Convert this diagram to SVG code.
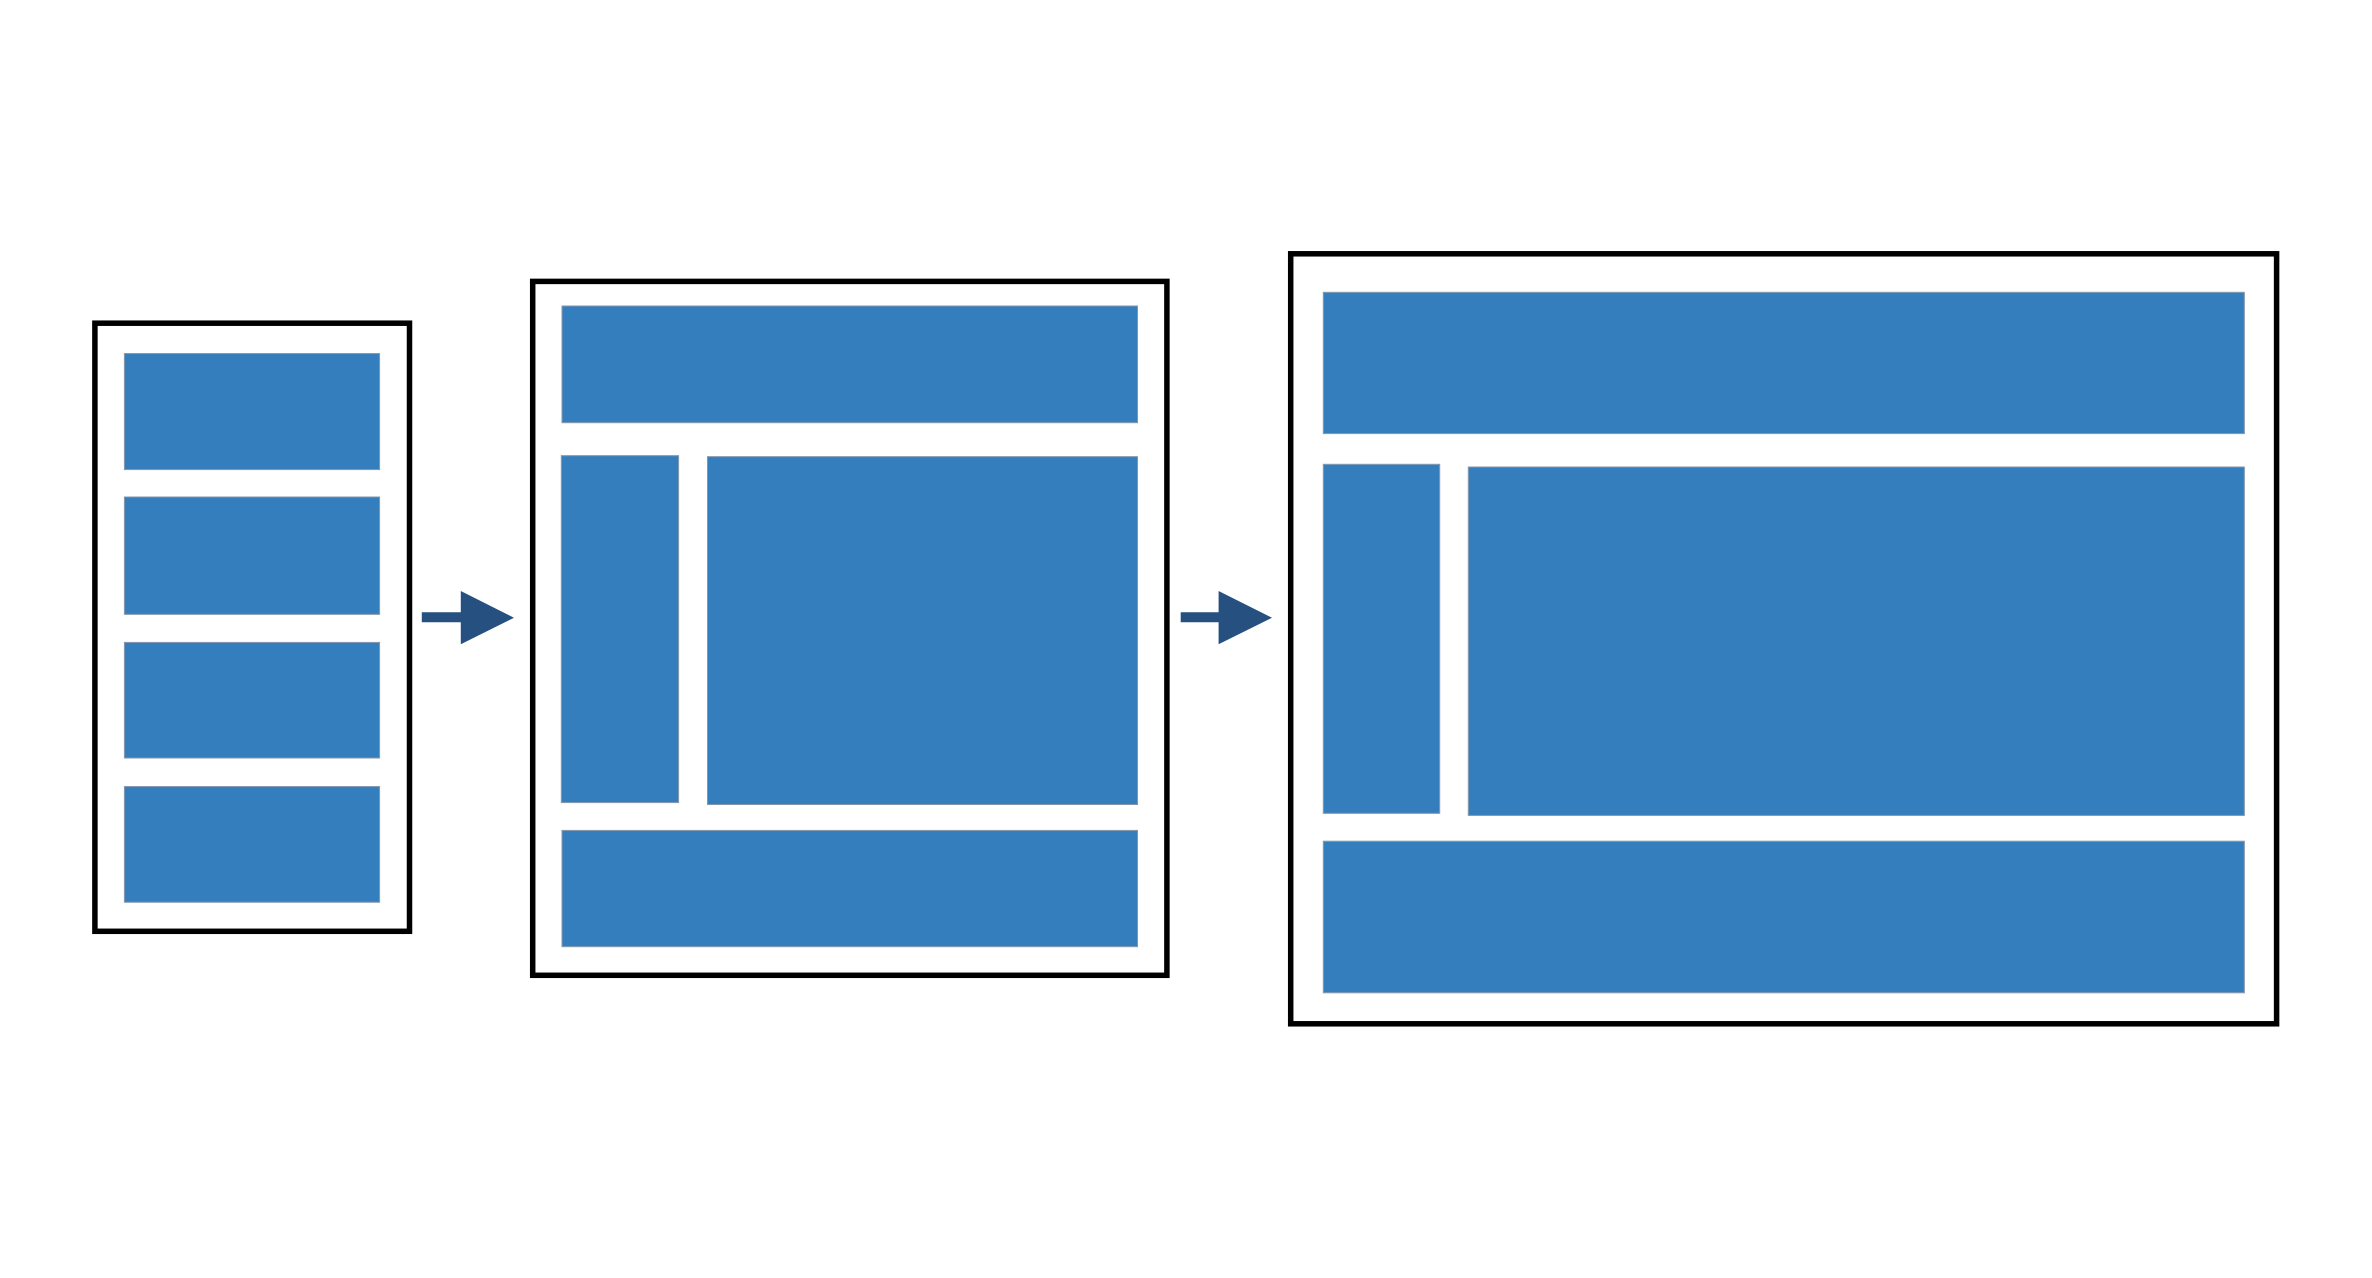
<svg xmlns="http://www.w3.org/2000/svg" width="2372" height="1278" viewBox="0 0 2372 1278">
<style>
.frame{fill:#ffffff;stroke:#000000;stroke-width:5.5}
.pane{fill:#357ebd;stroke:#8496ab;stroke-width:1}
.arrow{fill:#25507f;stroke:none}
</style>
<rect x="0" y="0" width="2372" height="1278" fill="#ffffff"/>
<g id="layout-mobile">
<rect class="frame" x="94.9" y="323.2" width="314.6" height="608.1"/>
<rect class="pane" x="124.4" y="353.6" width="255.2" height="116"/>
<rect class="pane" x="124.4" y="497" width="255.2" height="117.3"/>
<rect class="pane" x="124.4" y="642.4" width="255.2" height="115.6"/>
<rect class="pane" x="124.4" y="786.6" width="255.2" height="115.6"/>
</g>
<g id="layout-tablet">
<rect class="frame" x="532.7" y="281.4" width="634.2" height="693.9"/>
<rect class="pane" x="562" y="306" width="575.5" height="116.7"/>
<rect class="pane" x="561.3" y="455.7" width="117.3" height="346.9"/>
<rect class="pane" x="707.5" y="456.7" width="430" height="347.8"/>
<rect class="pane" x="562" y="830.4" width="575.5" height="116.3"/>
</g>
<g id="layout-desktop">
<rect class="frame" x="1290.7" y="253.8" width="985.9" height="770"/>
<rect class="pane" x="1323.3" y="292.3" width="921" height="141.3"/>
<rect class="pane" x="1323.3" y="464.3" width="116.4" height="349"/>
<rect class="pane" x="1468.3" y="467" width="776" height="348.4"/>
<rect class="pane" x="1323.3" y="841.2" width="921" height="151.6"/>
</g>
<g id="connectors">
<polygon class="arrow" points="421.8,612.3 460.8,612.3 460.8,591 514,617.7 460.8,644.3 460.8,622.3 421.8,622.3"/>
<polygon class="arrow" points="1180.7,612.3 1218.6,612.3 1218.6,591 1272,617.7 1218.6,644.3 1218.6,622.3 1180.7,622.3"/>
</g>
</svg>
